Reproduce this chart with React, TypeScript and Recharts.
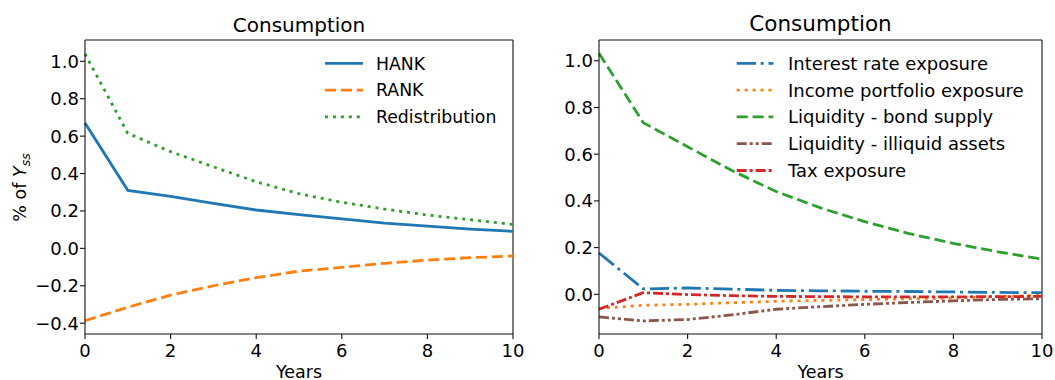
import React from "react";
import { LineChart, Line, XAxis, YAxis, Legend, ReferenceLine } from "recharts";

const years = [0, 1, 2, 3, 4, 5, 6, 7, 8, 9, 10];

// left panel
const hank = [0.67, 0.31, 0.278, 0.24, 0.205, 0.18, 0.157, 0.135, 0.119, 0.103, 0.091];
const rank = [-0.387, -0.315, -0.25, -0.2, -0.157, -0.122, -0.102, -0.08, -0.063, -0.05, -0.041];
const redistribution = [1.04, 0.615, 0.517, 0.436, 0.356, 0.292, 0.246, 0.21, 0.178, 0.153, 0.128];

// right panel
const interestRate = [0.177, 0.023, 0.027, 0.022, 0.017, 0.015, 0.013, 0.012, 0.01, 0.008, 0.007];
const incomePortfolio = [-0.061, -0.047, -0.043, -0.036, -0.03, -0.026, -0.023, -0.019, -0.016, -0.01, -0.004];
const bondSupply = [1.032, 0.735, 0.632, 0.53, 0.44, 0.37, 0.311, 0.26, 0.218, 0.182, 0.151];
const illiquidAssets = [-0.097, -0.114, -0.108, -0.088, -0.064, -0.053, -0.043, -0.035, -0.028, -0.022, -0.019];
const taxExposure = [-0.064, 0.007, -0.001, -0.006, -0.009, -0.01, -0.011, -0.011, -0.011, -0.01, -0.009];

const xTicks = [0, 2, 4, 6, 8, 10];
const leftYTicks = [-0.4, -0.2, 0, 0.2, 0.4, 0.6, 0.8, 1.0];
const rightYTicks = [0, 0.2, 0.4, 0.6, 0.8, 1.0];

const leftDomain: [number, number] = [-0.458, 1.114];
const rightDomain: [number, number] = [-0.17, 1.089];

const leftData = years.map((t, i) => ({ t, hank: hank[i], rank: rank[i], redistribution: redistribution[i] }));
const rightData = years.map((t, i) => ({
  t,
  interestRate: interestRate[i],
  incomePortfolio: incomePortfolio[i],
  bondSupply: bondSupply[i],
  illiquidAssets: illiquidAssets[i],
  taxExposure: taxExposure[i],
}));

const FONT = "DejaVu Sans";
const FS = 17.5;
const TICK_FS = 18;
const LW = 2.8;

type Series = { key: string; name: string; color: string; dash?: string };

const leftSeries: Series[] = [
  { key: "hank", name: "HANK", color: "#1f77b4" },
  { key: "rank", name: "RANK", color: "#ff7f0e", dash: "11.1 4.8" },
  { key: "redistribution", name: "Redistribution", color: "#2ca02c", dash: "3 4.95" },
];

const rightSeries: Series[] = [
  { key: "interestRate", name: "Interest rate exposure", color: "#1f77b4", dash: "19.2 4.8 3 4.8" },
  { key: "incomePortfolio", name: "Income portfolio exposure", color: "#ff7f0e", dash: "3 4.95" },
  { key: "bondSupply", name: "Liquidity - bond supply", color: "#2ca02c", dash: "11.1 4.8" },
  { key: "illiquidAssets", name: "Liquidity - illiquid assets", color: "#8c564b", dash: "10 3 3 3 3 3" },
  { key: "taxExposure", name: "Tax exposure", color: "#d62728", dash: "10 3 3 3" },
];

const fmt = (v: number) => v.toFixed(1).replace("-", "\u2212");
const tickStyle = { fontSize: TICK_FS, fill: "#000", fontFamily: FONT };
const axisLine = { stroke: "#111", strokeWidth: 1.1 };

const legendContent = (series: Series[], sx1: number, sx2: number, tx: number, fs: number) => () => (
  <svg width={300} height={series.length * 26.8 + 10} style={{ display: "block" }}>
    {series.map((s, i) => {
      const y = 13.3 + i * 26.8;
      return (
        <g key={s.key}>
          <line x1={sx1} x2={sx2} y1={y} y2={y} stroke={s.color} strokeWidth={LW} strokeDasharray={s.dash} />
          <text x={tx} y={y + 0.36 * fs} fontSize={fs} fontFamily={FONT} fill="#000">
            {s.name}
          </text>
        </g>
      );
    })}
  </svg>
);

const yearsLabel = (props: any) => {
  const vb = props.viewBox;
  return (
    <text x={vb.x + vb.width / 2} y={vb.y + 43.5} textAnchor="middle" fontSize={FS} fontFamily={FONT} fill="#000">
      Years
    </text>
  );
};

const yssLabel = () => (
  <text x={26} y={187.5} transform="rotate(-90 26 187.5)" textAnchor="middle" fontSize={FS} fontFamily={FONT} fill="#000">
    % of <tspan fontStyle="italic">Y</tspan>
    <tspan fontStyle="italic" fontSize={12.5} dy={4}>ss</tspan>
  </text>
);

const Title = ({ left, width, size, top }: { left: number; width: number; size: number; top: number }) => (
  <div
    style={{
      position: "absolute",
      left,
      width,
      top,
      textAlign: "center",
      fontFamily: FONT,
      fontSize: size,
      lineHeight: "20px",
      color: "#000",
    }}
  >
    Consumption
  </div>
);

export default function App() {
  return (
    <div style={{ position: "absolute", left: 0, top: 0, width: 1055, height: 380, background: "#fff" }}>
      <div style={{ position: "absolute", left: 0, top: 0 }}>
        <LineChart width={540} height={380} data={leftData} margin={{ top: 40, right: 27, bottom: 0, left: 0 }}>
          <XAxis
            dataKey="t"
            type="number"
            domain={[0, 10]}
            ticks={xTicks}
            height={46}
            tick={tickStyle}
            tickSize={5}
            tickMargin={5}
            axisLine={axisLine}
            tickLine={axisLine}
            label={yearsLabel}
          />
          <YAxis
            type="number"
            domain={leftDomain}
            ticks={leftYTicks}
            allowDataOverflow
            width={85}
            tick={tickStyle}
            tickFormatter={fmt}
            tickSize={5}
            tickMargin={1}
            axisLine={axisLine}
            tickLine={axisLine}
            label={yssLabel}
          />
          <ReferenceLine y={leftDomain[1]} stroke="#111" strokeWidth={1.1} />
          <ReferenceLine x={10} stroke="#111" strokeWidth={1.1} />
          {leftSeries.map((s) => (
            <Line
              key={s.key}
              dataKey={s.key}
              name={s.name}
              type="linear"
              stroke={s.color}
              strokeWidth={LW}
              strokeDasharray={s.dash}
              dot={false}
              activeDot={false}
              isAnimationActive={false}
            />
          ))}
          <Legend
            layout="vertical"
            align="center"
            verticalAlign="middle"
            wrapperStyle={{ left: 320, top: 50, width: 230 }}
            content={legendContent(leftSeries, 5, 43, 56, 17.3)}
          />
        </LineChart>
        <Title left={85} width={428} size={20} top={14.8} />
      </div>
      <div style={{ position: "absolute", left: 540, top: 0 }}>
        <LineChart width={515} height={380} data={rightData} margin={{ top: 40, right: 13, bottom: 0, left: 0 }}>
          <XAxis
            dataKey="t"
            type="number"
            domain={[0, 10]}
            ticks={xTicks}
            height={46}
            tick={tickStyle}
            tickSize={5}
            tickMargin={5}
            axisLine={axisLine}
            tickLine={axisLine}
            label={yearsLabel}
          />
          <YAxis
            type="number"
            domain={rightDomain}
            ticks={rightYTicks}
            allowDataOverflow
            width={59}
            tick={tickStyle}
            tickFormatter={fmt}
            tickSize={5}
            tickMargin={1}
            axisLine={axisLine}
            tickLine={axisLine}
          />
          <ReferenceLine y={rightDomain[1]} stroke="#111" strokeWidth={1.1} />
          <ReferenceLine x={10} stroke="#111" strokeWidth={1.1} />
          {rightSeries.map((s) => (
            <Line
              key={s.key}
              dataKey={s.key}
              name={s.name}
              type="linear"
              stroke={s.color}
              strokeWidth={LW}
              strokeDasharray={s.dash}
              dot={false}
              activeDot={false}
              isAnimationActive={false}
            />
          ))}
          <Legend
            layout="vertical"
            align="center"
            verticalAlign="middle"
            wrapperStyle={{ left: 190, top: 50, width: 300 }}
            content={legendContent(rightSeries, 6.7, 43.3, 58, 18)}
          />
        </LineChart>
        <Title left={59} width={443} size={21.5} top={14.3} />
      </div>
    </div>
  );
}
